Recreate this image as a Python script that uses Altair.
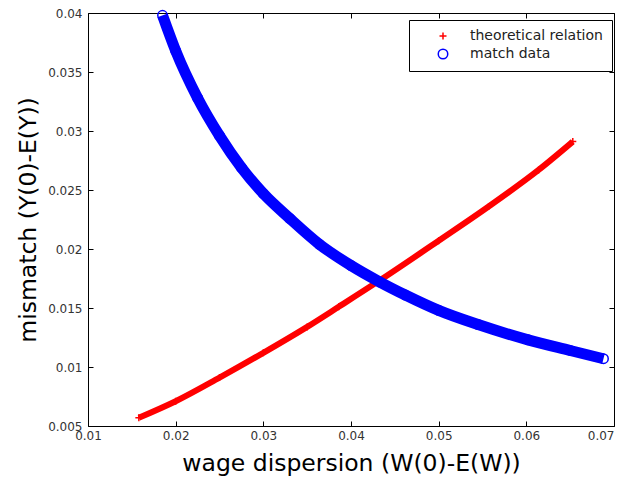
import altair as alt
import pandas as pd

series_names = ["theoretical relation", "match data"]

red_x = [0.0158, 0.0200, 0.0250, 0.0300, 0.0350, 0.0386, 0.0432, 0.0500, 0.0557, 0.0614, 0.0653]
red_y = [0.0057, 0.0071, 0.0091, 0.0112, 0.0134, 0.0151, 0.0173, 0.0207, 0.0236, 0.0267, 0.0291]

blue_x = [0.0185, 0.0200, 0.0225, 0.0250, 0.0275, 0.0300, 0.0330, 0.0364, 0.0400,
          0.0433, 0.0462, 0.0500, 0.0545, 0.0602, 0.0650, 0.0688]
blue_y = [0.0398, 0.0368, 0.0328, 0.0296, 0.0269, 0.0247, 0.0226, 0.0204, 0.0186,
          0.0172, 0.0161, 0.0148, 0.0136, 0.0123, 0.0114, 0.0107]

x_ticks = [0.01, 0.02, 0.03, 0.04, 0.05, 0.06, 0.07]
y_ticks = [0.005, 0.01, 0.015, 0.02, 0.025, 0.03, 0.035, 0.04]

df = pd.DataFrame({
    "x": red_x + blue_x,
    "y": red_y + blue_y,
    "series": [series_names[0]] * len(red_x) + [series_names[1]] * len(blue_x),
})

FONT = "DejaVu Sans"
xscale = alt.Scale(domain=[0.01, 0.07], nice=False, zero=False)
yscale = alt.Scale(domain=[0.005, 0.04], nice=False, zero=False)

x_axis = alt.Axis(values=x_ticks, format="~g", offset=-5, tickSize=5, domain=False, grid=False,
                  labelPadding=4, labelFont=FONT, labelFontSize=12, labelColor="#333",
                  labelAlign={"condition": {"test": "datum.value >= 0.069", "value": "right"},
                              "value": "center"},
                  labelFlush=False, labelOverlap=False, labelBound=False, tickColor="black",
                  title="wage dispersion (W(0)-E(W))", titleFont=FONT, titleFontSize=23.5,
                  titleFontWeight="normal", titleColor="black", titlePadding=10)
y_axis = alt.Axis(values=y_ticks, format="~g", offset=-5, tickSize=5, domain=False, grid=False,
                  labelPadding=6, labelFont=FONT, labelFontSize=12, labelColor="#333",
                  labelFlush=False, labelOverlap=False, tickColor="black",
                  title="mismatch (Y(0)-E(Y))", titleFont=FONT, titleFontSize=23.5,
                  titleFontWeight="normal", titleColor="black", titlePadding=7)

X = alt.X("x:Q", scale=xscale, axis=x_axis)
Y = alt.Y("y:Q", scale=yscale, axis=y_axis)

plus_path = "M-1,0L1,0M0,-1L0,1"
legend_opts = dict(title=None, orient="none", legendX=321, legendY=7,
                   strokeColor="black", fillColor="white", padding=9,
                   labelFont=FONT, labelFontSize=14, labelColor="#222",
                   symbolOffset=18, labelOffset=20, rowPadding=3,
                   symbolSize=40, symbolStrokeWidth=1.5)
color_enc = alt.Color("series:N", scale=alt.Scale(domain=series_names, range=["#ff0000", "#0000ff"]),
                      legend=alt.Legend(**legend_opts))
shape_enc = alt.Shape("series:N", scale=alt.Scale(domain=series_names, range=[plus_path, "circle"]),
                      legend=alt.Legend(**legend_opts))
size_enc = alt.Size("series:N", scale=alt.Scale(domain=series_names, range=[49, 90]), legend=None)

base = alt.Chart(df)
red_line = base.transform_filter(alt.datum.series == series_names[0]).mark_line(
    color="#ff0000", strokeWidth=6, interpolate="monotone").encode(x=X, y=Y)
blue_line = base.transform_filter(alt.datum.series == series_names[1]).mark_line(
    color="#0000ff", strokeWidth=11, interpolate="monotone").encode(x=X, y=Y)
red_pts = base.transform_filter(alt.datum.series == series_names[0]).mark_point(
    filled=False, strokeWidth=1.5, opacity=1).encode(x=X, y=Y, color=color_enc, shape=shape_enc, size=size_enc)
blue_pts = base.transform_filter(alt.datum.series == series_names[1]).mark_point(
    filled=False, strokeWidth=1.5, opacity=1).encode(x=X, y=Y, color=color_enc, shape=shape_enc, size=size_enc)

inner = alt.layer(red_line, red_pts, blue_line, blue_pts)

tick_layer = base.mark_point(opacity=0).encode(
    x=alt.X("x:Q", scale=xscale, axis=alt.Axis(orient="top", values=x_ticks, offset=-5, tickSize=5,
                                                labels=False, domain=False, grid=False, title=None,
                                                tickColor="black")),
    y=alt.Y("y:Q", scale=yscale, axis=alt.Axis(orient="right", values=y_ticks, offset=-5, tickSize=5,
                                                labels=False, domain=False, grid=False, title=None,
                                                tickColor="black")),
)

chart = alt.layer(inner, tick_layer).resolve_scale(x="independent", y="independent").properties(
    width=526, height=413,
    autosize=alt.AutoSizeParams(type="none"),
    padding={"left": 80, "top": 5, "right": 6, "bottom": 55},
    background="white",
).configure_view(stroke="black", strokeWidth=1)

chart.save("out.html", embed_options={"renderer": "svg", "actions": False})
